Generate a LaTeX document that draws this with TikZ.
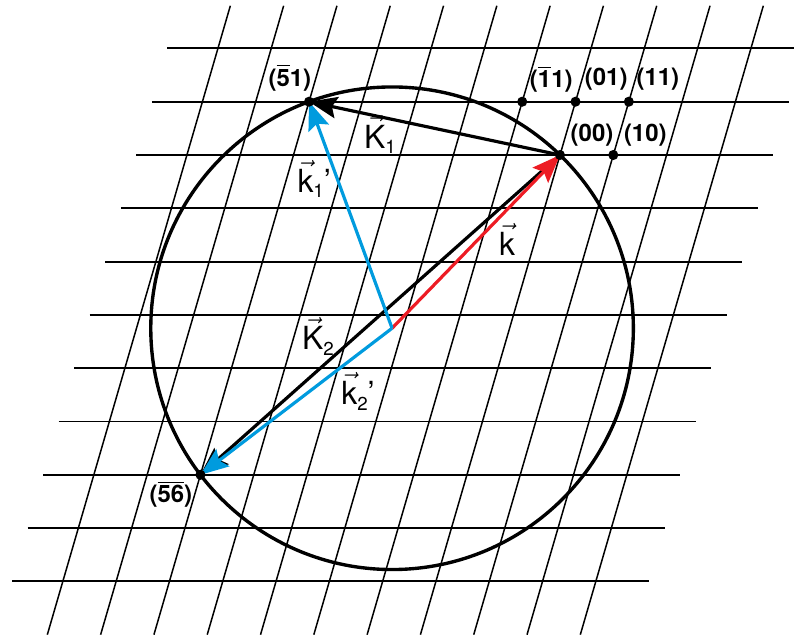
\documentclass[tikz,border=0pt]{standalone}
\usepackage{amsmath}
\usepackage{fontspec}
\setmainfont{TeX Gyre Heros}
\usetikzlibrary{arrows.meta}

\definecolor{kblue}{RGB}{0,155,222}
\definecolor{kred}{RGB}{237,28,36}

\newcommand{\nbar}[1]{$\overline{\text{#1}}$}
\newcommand{\vlab}[3]{$\vec{\text{#1}}$\raisebox{-3pt}{\fontsize{10}{10}\selectfont #2}#3}

\begin{document}
\begin{tikzpicture}[x={(1cm,0cm)}, y={(0.291cm,1cm)},
  every node/.style={inner sep=0pt},
  idx/.style={font=\fontsize{12.8}{12.8}\selectfont\bfseries},
  vlbl/.style={font=\fontsize{17}{17}\selectfont},
  wave/.style={line width=1.7pt, -{Stealth[length=15pt,width=11.5pt,inset=2.5pt]}}]
\path[use as bounding box] (-10.507cm,-9.043cm) rectangle (4.390cm,2.908cm);
\clip (-10.507cm,-9.043cm) rectangle (4.390cm,2.908cm);
% reciprocal lattice
\foreach \k in {-8,...,2} \draw[line width=1pt] (-7.95,\k) -- (4,\k);
\foreach \h in {-7,...,3} \draw[line width=0.8pt] (\h,-9) -- (\h,2.8);
\coordinate (o) at (0,0);
\coordinate (p10) at (1,0);
\coordinate (p01) at (0,1);
\coordinate (p11) at (1,1);
\coordinate (pm11) at (-1,1);
\coordinate (pm51) at (-5,1);
\coordinate (pm5m6) at (-5,-6);
\coordinate (ctr) at (-2.205,-3.2505);
% Ewald sphere
\draw[line width=1.8pt] (ctr) circle (4.527cm);
\draw[wave] (o) -- (pm51);
\draw[wave] (o) -- (pm5m6);
\draw[wave, kred] (ctr) -- (o);
\draw[wave, kblue] (ctr) -- (pm51);
\draw[wave, kblue] (ctr) -- (pm5m6);
\foreach \p in {o,p10,p01,p11,pm11,pm51,pm5m6} \fill (\p) circle (2.7pt);
\node[idx] (l51) at (-5.49,1.45) {(\nbar{5}1)};
\node[idx] (lm11) at (-0.58,1.43) {(\nbar{1}1)};
\node[idx] (l01) at (0.45,1.43) {(01)};
\node[idx] (l11) at (1.42,1.43) {(11)};
\node[idx] (l00) at (0.49,0.38) {(00)};
\node[idx] (l10) at (1.49,0.38) {(10)};
\node[idx] (l56) at (-5.45,-6.36) {(\nbar{5}\nbar{6})};
\node[vlbl] (lK1) at (-3.49,0.38) {\vlab{K}{1}{}};
\node[vlbl] (lk1) at (-4.48,-0.45) {\vlab{k}{1}{’}};
\node[vlbl] (lk) at (-0.53,-1.59) {$\vec{\text{k}}$};
\node[vlbl] (lK2) at (-3.55,-3.40) {\vlab{K}{2}{}};
\node[vlbl] (lk2) at (-2.50,-4.43) {\vlab{k}{2}{’}};
\end{tikzpicture}
\end{document}
